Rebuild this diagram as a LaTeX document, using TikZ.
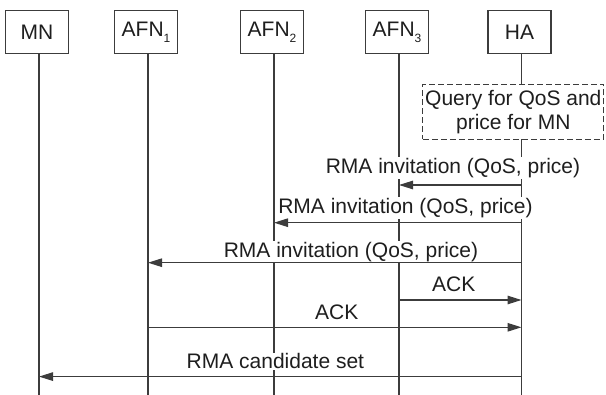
\documentclass[tikz,border=0pt]{standalone}
\usepackage{fontspec}
\setmainfont{Liberation Sans}
\usetikzlibrary{arrows.meta}
\definecolor{ink}{HTML}{1E1E1E}
\definecolor{wire}{HTML}{3C3C3C}
\newcommand\lowidx[1]{\raisebox{-0.28em}{\fontsize{12}{12}\selectfont #1}}
\begin{document}
\begin{tikzpicture}[x=1pt,y=-1pt,
  font=\fontsize{21}{24}\selectfont, text=ink,
  actor/.style={draw=wire, line width=1.3pt, fill=white, minimum width=63pt,
                minimum height=43.5pt, inner sep=0pt},
  life/.style={draw=wire, line width=1.3pt},
  msg/.style={draw=wire, line width=1.2pt, -{Triangle[length=14pt,width=8.5pt]}},
  lbl/.style={fill=white, inner sep=1pt, anchor=base},
  note/.style={draw=wire, dash pattern=on 6pt off 3pt, line width=1.1pt, fill=white,
               align=center, minimum width=181pt, minimum height=55pt, inner sep=0pt}]
\useasboundingbox (0,0) rectangle (606,395);

% participants
\node[actor] (mn)   at (37,32)    {MN};
\node[actor] (afn1) at (146,32)   {AFN\lowidx{1}};
\node[actor] (afn2) at (272,32)   {AFN\lowidx{2}};
\node[actor] (afn3) at (397,32)   {AFN\lowidx{3}};
\node[actor] (ha)   at (519.5,32) {HA};

% lifelines
\foreach \p in {mn,afn1,afn2,afn3,ha}{
  \coordinate (l\p) at ([xshift=2pt]\p.south);
  \coordinate (e\p) at (l\p |- 0,395);
  \draw[life] (l\p) -- (e\p);
}

% local action at the home agent
\node[note] (query) at (513.3,111.8) {Query for QoS and\\price for MN};

% message labels
\node[lbl] (t1) at (453,173.3)   {RMA invitation (QoS, price)};
\node[lbl] (t2) at (405.5,213.3) {RMA invitation (QoS, price)};
\node[lbl] (t3) at (351,257.3)   {RMA invitation (QoS, price)};
\node[lbl] (t4) at (453.8,291.7) {ACK};
\node[lbl] (t5) at (336.7,319.3) {ACK};
\node[lbl] (t6) at (275.4,368.8) {RMA candidate set};

% message levels
\coordinate (y1) at (0,185);
\coordinate (y2) at (0,222.7);
\coordinate (y3) at (0,262.7);
\coordinate (y4) at (0,300);
\coordinate (y5) at (0,327.3);
\coordinate (y6) at (0,376.6);

% messages
\draw[msg] (lha |- y1) -- (lafn3 |- y1);
\draw[msg] (lha |- y2) -- (lafn2 |- y2);
\draw[msg] (lha |- y3) -- (lafn1 |- y3);
\draw[msg] (lafn3 |- y4) -- (lha |- y4);
\draw[msg] (lafn1 |- y5) -- (lha |- y5);
\draw[msg] (lha |- y6) -- (lmn |- y6);
\end{tikzpicture}
\end{document}
